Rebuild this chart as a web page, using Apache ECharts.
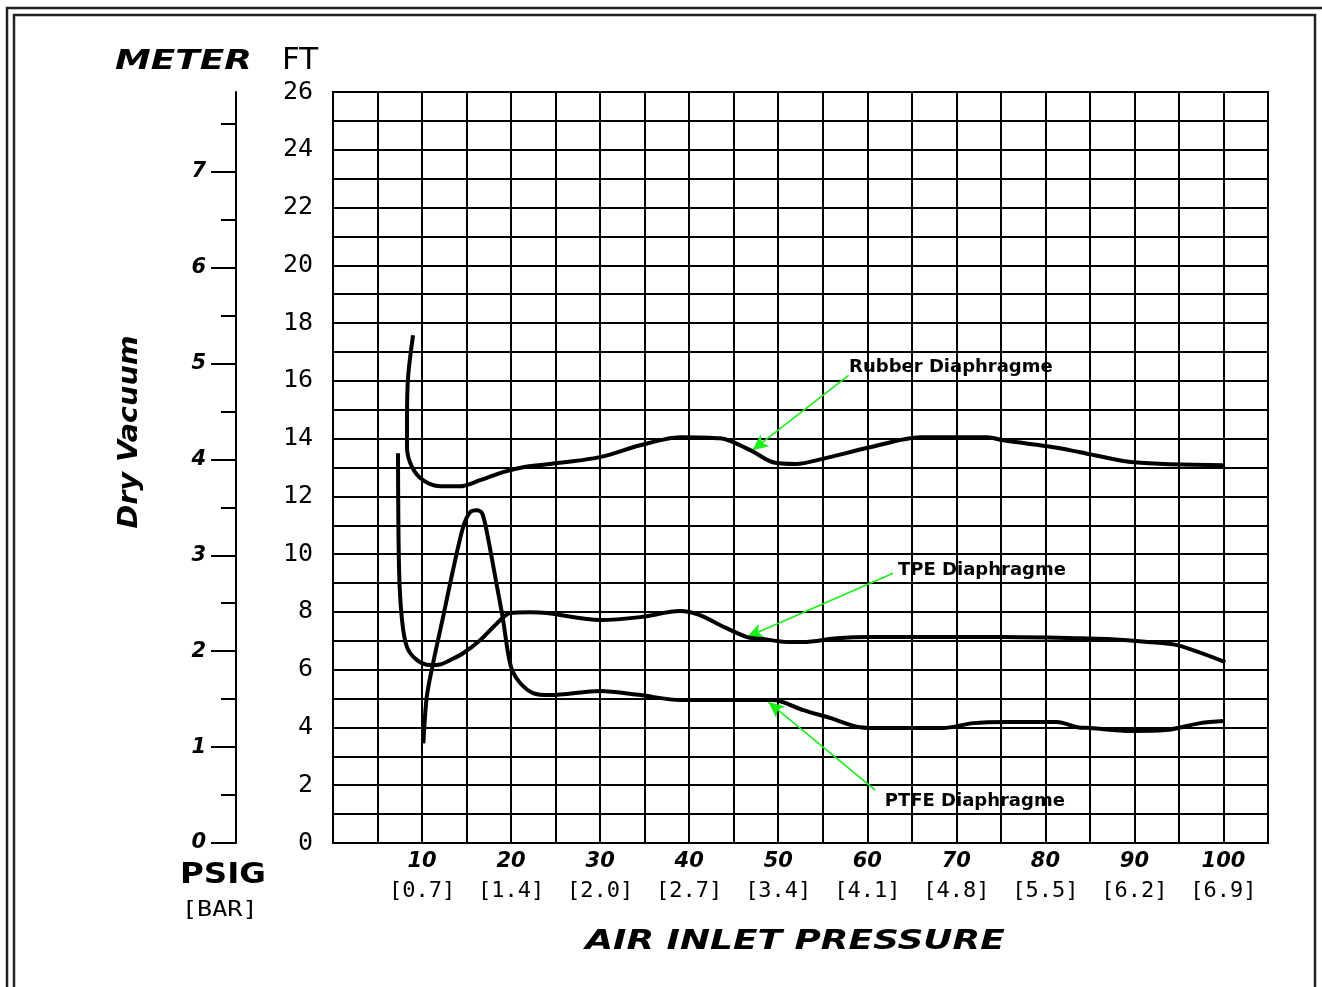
<!DOCTYPE html>
<html>
<head>
<meta charset="utf-8">
<script src="https://cdn.jsdelivr.net/npm/echarts@6/dist/echarts.min.js"></script>
<style>
html,body{margin:0;padding:0;background:#fff;}
#chart{width:1322px;height:987px;}
</style>
</head>
<body>
<div id="chart"></div>
<script>
// ---- data ----
const psiTicks = [10, 20, 30, 40, 50, 60, 70, 80, 90, 100];
const barTicks = ['[0.7]', '[1.4]', '[2.0]', '[2.7]', '[3.4]', '[4.1]', '[4.8]', '[5.5]', '[6.2]', '[6.9]'];
const ftTicks = [0, 2, 4, 6, 8, 10, 12, 14, 16, 18, 20, 22, 24, 26];
const meterTicks = [0, 1, 2, 3, 4, 5, 6, 7];
const meterMinorTicks = [0.5, 1.5, 2.5, 3.5, 4.5, 5.5, 6.5, 7.5];
const meterAxisTop = 7.83; // meter value read at the top of the scale (26 ft line)

const rubberPsi = [8.99, 8.43, 8.31, 8.31, 8.88, 10.11, 12.02, 14.27, 16.52, 19.10, 21.35, 24.04, 30.0, 34.5, 39.0, 43.5, 46.85, 49.4, 52.0, 55.0, 60.3, 66.0, 73.5, 75.3, 80.9, 83.9, 89.9, 100.0];
const rubberFt  = [17.58, 16.12, 14.64, 13.70, 13.01, 12.56, 12.35, 12.35, 12.56, 12.84, 13.01, 13.11, 13.36, 13.77, 14.05, 14.01, 13.60, 13.18, 13.12, 13.30, 13.70, 14.05, 14.05, 13.94, 13.70, 13.53, 13.18, 13.08];

const tpePsi = [7.30, 7.42, 7.75, 8.31, 9.44, 10.9, 12.0, 13.4, 14.61, 16.52, 18.43, 19.89, 22.13, 24.04, 30.0, 34.5, 39.0, 41.2, 43.5, 46.5, 48.3, 51.0, 52.8, 56.6, 60.3, 75.3, 83.9, 87.0, 91.5, 94.8, 100.2];
const tpeFt  = [13.49, 9.45, 7.72, 6.78, 6.33, 6.16, 6.18, 6.37, 6.57, 7.02, 7.61, 7.96, 7.99, 7.96, 7.72, 7.82, 8.03, 7.89, 7.54, 7.13, 7.06, 6.96, 6.96, 7.09, 7.13, 7.13, 7.09, 7.06, 6.96, 6.85, 6.26];

const ptfePsi = [10.15, 10.53, 11.24, 12.36, 13.48, 14.61, 15.39, 16.18, 16.74, 17.30, 18.43, 19.10, 19.66, 20.11, 21.01, 22.47, 24.38, 30.0, 34.5, 39.0, 43.5, 49.4, 52.8, 55.8, 59.2, 61.5, 68.5, 71.9, 75.7, 81.3, 83.6, 85.1, 89.6, 93.5, 97.4, 100.1];
const ptfeFt  = [3.45, 5.06, 6.23, 7.82, 9.45, 10.93, 11.45, 11.52, 11.42, 10.73, 8.86, 7.72, 6.57, 5.99, 5.54, 5.19, 5.12, 5.26, 5.12, 4.95, 4.95, 4.95, 4.60, 4.33, 4.01, 3.98, 3.98, 4.15, 4.19, 4.19, 4.01, 3.98, 3.88, 3.91, 4.15, 4.22];

// annotation anchors [psi, ft]
const rubberNote = { text: 'Rubber Diaphragme', label: [57.9, 16.48], from: [57.9, 16.19], to: [47.1, 13.60] };
const tpeNote    = { text: 'TPE Diaphragme',    label: [63.4, 9.45],  from: [62.9, 9.34],  to: [46.5, 7.13] };
const ptfeNote   = { text: 'PTFE Diaphragme',   label: [61.9, 1.45],  from: [60.9, 1.83],  to: [48.9, 4.88] };

// ---- build ----
const zip = (a, b) => a.map((v, i) => [v, b[i]]);
const heavy = '"DejaVu Sans", sans-serif';
const mono = '"DejaVu Sans Mono", monospace';

function curve(name, xs, ys, note) {
  return {
    name: name,
    type: 'line',
    xAxisIndex: 0, yAxisIndex: 0,
    data: zip(xs, ys),
    smooth: 0.3,
    symbol: 'none',
    lineStyle: { color: '#000', width: 4 },
    z: 5,
    markLine: {
      silent: true,
      animation: false,
      symbol: ['none', 'arrow'],
      symbolSize: [11, 16],
      lineStyle: { color: '#19f019', width: 1.6, type: 'solid' },
      label: { show: false },
      data: [[{ coord: note.from }, { coord: note.to }]]
    },
    markPoint: {
      silent: true,
      animation: false,
      symbol: 'circle',
      symbolSize: 1,
      itemStyle: { color: 'rgba(0,0,0,0)' },
      label: {
        show: true,
        position: 'right',
        distance: 0,
        formatter: note.text,
        color: '#000',
        fontFamily: heavy,
        fontWeight: 'bold',
        fontSize: 18
      },
      data: [{ coord: note.label }]
    }
  };
}

const chart = echarts.init(document.getElementById('chart'), null, { renderer: 'canvas' });

const option = {
  animation: false,
  backgroundColor: '#fff',
  grid: [
    { left: 333, top: 92, right: 54, bottom: 144, containLabel: false, outerBoundsMode: 'none',
      show: true, borderColor: '#000', borderWidth: 2, backgroundColor: 'transparent' },
    { left: 236, top: 92, width: 1, bottom: 144, containLabel: false, outerBoundsMode: 'none' }
  ],
  xAxis: [
    {
      type: 'value', gridIndex: 0, min: 0, max: 105, interval: 5,
      axisLine: { show: true, onZero: false, lineStyle: { color: '#000', width: 2 } },
      axisTick: { show: false },
      splitLine: { show: true, lineStyle: { color: '#000', width: 2 } },
      axisLabel: {
        show: true, margin: 7,
        formatter: function (v) {
          const i = psiTicks.indexOf(v);
          if (i < 0) return '';
          return '{a|' + v + '}\n{b|' + barTicks[i] + '}';
        },
        rich: {
          a: { fontFamily: heavy, fontWeight: 'bold', fontStyle: 'italic', fontSize: 21, color: '#000', lineHeight: 24 },
          b: { fontFamily: mono, fontSize: 22, color: '#000', lineHeight: 34 }
        }
      }
    },
    { type: 'value', gridIndex: 1, min: 0, max: 1, show: false }
  ],
  yAxis: [
    {
      type: 'value', gridIndex: 0, min: 0, max: 26, interval: 1,
      axisLine: { show: true, lineStyle: { color: '#000', width: 2 } },
      axisTick: { show: false },
      splitLine: { show: true, lineStyle: { color: '#000', width: 2 } },
      axisLabel: {
        margin: 20, color: '#000', fontFamily: mono, fontSize: 25,
        formatter: function (v) { return ftTicks.indexOf(v) >= 0 ? String(v) : ''; }
      }
    },
    {
      type: 'value', gridIndex: 1, position: 'left', min: 0, max: meterAxisTop,
      axisLine: { show: true, lineStyle: { color: '#000', width: 2 } },
      axisTick: { show: true, length: 25, lineStyle: { color: '#000', width: 2 }, customValues: meterTicks },
      splitLine: { show: false },
      axisLabel: {
        show: true, margin: 30, color: '#000', fontFamily: heavy, fontWeight: 'bold', fontStyle: 'italic', fontSize: 21,
        customValues: meterTicks,
        formatter: function (v) { return meterTicks.indexOf(v) >= 0 ? String(v) : ''; }
      }
    },
    {
      type: 'value', gridIndex: 1, position: 'left', min: 0, max: meterAxisTop,
      axisLine: { show: false },
      axisTick: { show: true, length: 15, lineStyle: { color: '#000', width: 2 }, customValues: meterMinorTicks },
      splitLine: { show: false },
      axisLabel: { show: false }
    }
  ],
  series: [
    curve('Rubber Diaphragme', rubberPsi, rubberFt, rubberNote),
    curve('TPE Diaphragme', tpePsi, tpeFt, tpeNote),
    curve('PTFE Diaphragme', ptfePsi, ptfeFt, ptfeNote)
  ],
  graphic: [
    { type: 'polyline', silent: true, shape: { points: [[7, 987], [7, 8], [1322, 8]] },
      style: { stroke: '#222', lineWidth: 2.5, fill: null } },
    { type: 'rect', silent: true, shape: { x: 14, y: 15, width: 1301, height: 985 },
      style: { stroke: '#222', lineWidth: 2.5, fill: null } },
    { type: 'text', silent: true, x: 115, y: 62, scaleX: 1.38,
      style: { text: 'METER', fill: '#000', font: 'italic bold 26px "DejaVu Sans"', textAlign: 'left', textVerticalAlign: 'middle', verticalAlign: 'middle' } },
    { type: 'text', silent: true, x: 282, y: 61,
      style: { text: 'FT', fill: '#000', font: '31px "DejaVu Sans"', textAlign: 'left', textVerticalAlign: 'middle', verticalAlign: 'middle' } },
    { type: 'text', silent: true, x: 130, y: 432, rotation: Math.PI / 2, scaleX: 1.1,
      style: { text: 'Dry Vacuum', fill: '#000', font: 'italic bold 26px "DejaVu Sans"', textAlign: 'center', align: 'center', textVerticalAlign: 'middle', verticalAlign: 'middle' } },
    { type: 'text', silent: true, x: 180, y: 875, scaleX: 1.12,
      style: { text: 'PSIG', fill: '#000', font: 'bold 29px "DejaVu Sans"', textAlign: 'left', textVerticalAlign: 'middle', verticalAlign: 'middle' } },
    { type: 'text', silent: true, x: 182, y: 910, scaleX: 1.14,
      style: { text: '[BAR]', fill: '#000', font: '22px "DejaVu Sans Mono"', textAlign: 'left', textVerticalAlign: 'middle', verticalAlign: 'middle' } },
    { type: 'text', silent: true, x: 795, y: 942, scaleX: 1.33,
      style: { text: 'AIR INLET PRESSURE', fill: '#000', font: 'italic bold 27px "DejaVu Sans"', textAlign: 'center', align: 'center', textVerticalAlign: 'middle', verticalAlign: 'middle' } }
  ]
};

chart.setOption(option);
</script>
</body>
</html>
